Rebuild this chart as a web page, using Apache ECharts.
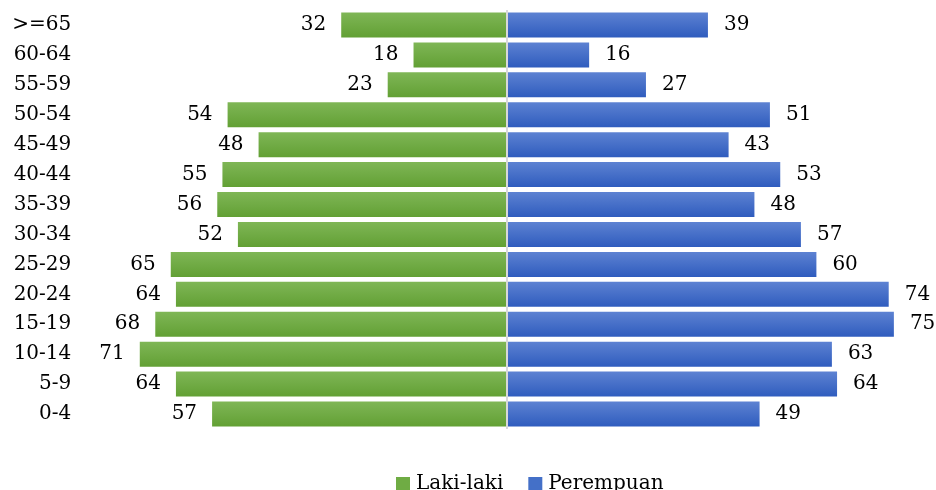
<!DOCTYPE html>
<html>
<head>
<meta charset="utf-8">
<script src="https://cdn.jsdelivr.net/npm/echarts@6/dist/echarts.min.js"></script>
<style>html,body{margin:0;padding:0;background:#fff}#c{width:936px;height:490px}</style>
</head>
<body>
<div id="c"></div>
<script>
var categories = ['0-4','5-9','10-14','15-19','20-24','25-29','30-34','35-39','40-44','45-49','50-54','55-59','60-64','>=65'];
var lakiLaki = [57,64,71,68,64,65,52,56,55,48,54,23,18,32];
var perempuan = [49,64,63,75,74,60,57,48,53,43,51,27,16,39];
var seriesNames = ['Laki-laki','Perempuan'];

var FONT = 'DejaVu Serif';
var chart = echarts.init(document.getElementById('c'), null, {renderer:'canvas'});
var green = new echarts.graphic.LinearGradient(0,0,0,1,[{offset:0,color:'#7fb656'},{offset:1,color:'#62a034'}]);
var blue = new echarts.graphic.LinearGradient(0,0,0,1,[{offset:0,color:'#5d82d2'},{offset:1,color:'#2f5cbe'}]);
chart.setOption({
  animation:false,
  grid:{left:93.3,right:16.3,top:10,bottom:61},
  legend:{
    top:469,left:391,itemWidth:14,itemHeight:14,itemGap:25,
    icon:'rect',
    textStyle:{fontFamily:FONT,fontSize:20,color:'#000',padding:[0,0,0,1]},
    data:[{name:seriesNames[0],itemStyle:{color:'#6fac44'}},{name:seriesNames[1],itemStyle:{color:'#4470c8'}}]
  },
  xAxis:{type:'value',min:-80,max:80,show:false},
  yAxis:{
    type:'category',data:categories,
    axisLine:{show:false},axisTick:{show:false},
    axisLabel:{fontFamily:FONT,fontSize:20,color:'#000',margin:22}
  },
  series:[
    {name:seriesNames[0],type:'bar',stack:'a',barCategoryGap:'16.5%',
     data:lakiLaki.map(function(v){return -v;}),
     itemStyle:{color:green},
     label:{show:true,position:'left',distance:15,fontFamily:FONT,fontSize:20,color:'#000',
       formatter:function(p){return Math.abs(p.value);}}},
    {name:seriesNames[1],type:'bar',stack:'a',barCategoryGap:'16.5%',
     data:perempuan,
     itemStyle:{color:blue},
     label:{show:true,position:'right',distance:16,fontFamily:FONT,fontSize:20,color:'#000'},
     markLine:{silent:true,symbol:'none',label:{show:false},
       lineStyle:{color:'#d9d9d9',type:'solid',width:2},
       data:[{xAxis:0}]}}
  ]
});
</script>
</body>
</html>
